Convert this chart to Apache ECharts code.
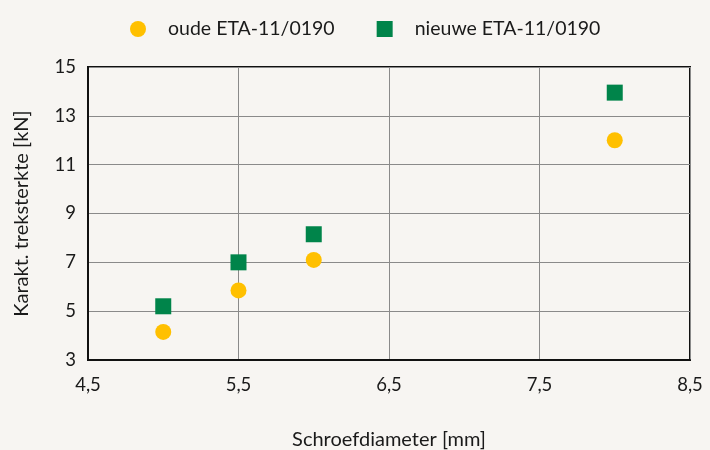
<!DOCTYPE html>
<html>
<head>
<meta charset="utf-8">
<script src="https://cdn.jsdelivr.net/npm/echarts@6/dist/echarts.min.js"></script>
<style>
  html, body { margin: 0; padding: 0; background: #f7f5f2; }
  #chart { width: 710px; height: 450px; }
</style>
</head>
<body>
<div id="chart"></div>
<script>
// diameters (mm)
const diameters = [5, 5.5, 6, 8];
// characteristic tensile strength (kN)
const oudeValues = [4.15, 5.85, 7.1, 12.0];
const nieuweValues = [5.2, 7.0, 8.15, 13.95];
const seriesNames = ['oude ETA-11/0190', 'nieuwe ETA-11/0190'];

const chart = echarts.init(document.getElementById('chart'));
const font = 'Lato, "Open Sans", sans-serif';
const comma = v => String(v).replace('.', ',');

const option = {
  backgroundColor: '#f7f5f2',
  textStyle: { fontFamily: font, color: '#1a1a1a' },
  legend: {
    top: 14,
    left: 125,
    itemWidth: 16,
    itemHeight: 16,
    itemGap: 42,
    textStyle: { fontSize: 19.5, color: '#1a1a1a', padding: [0, 0, 0, 17] },
    data: [
      { name: seriesNames[0], icon: 'circle' },
      { name: seriesNames[1], icon: 'rect' }
    ]
  },
  grid: {
    left: 88, right: 20, top: 67, bottom: 90,
    outerBoundsMode: 'none',
    show: true, borderColor: '#111', borderWidth: 2
  },
  xAxis: {
    type: 'value',
    min: 4.5, max: 8.5, interval: 1,
    name: 'Schroefdiameter [mm]',
    nameLocation: 'middle',
    nameGap: 70,
    nameTextStyle: { fontSize: 20, color: '#1a1a1a' },
    axisLine: { show: true, lineStyle: { color: '#111', width: 2 } },
    axisTick: { show: false },
    axisLabel: { fontSize: 18.5, color: '#1a1a1a', margin: 16, formatter: comma },
    splitLine: { lineStyle: { color: '#8a8a8a', width: 1 } }
  },
  yAxis: {
    type: 'value',
    min: 3, max: 15, interval: 2,
    name: 'Karakt. treksterkte [kN]',
    nameLocation: 'middle',
    nameGap: 56,
    nameTextStyle: { fontSize: 20, color: '#1a1a1a' },
    axisLine: { show: true, lineStyle: { color: '#111', width: 2 } },
    axisTick: { show: false },
    axisLabel: { fontSize: 18.5, color: '#1a1a1a', margin: 12 },
    splitLine: { lineStyle: { color: '#8a8a8a', width: 1 } }
  },
  series: [
    {
      name: seriesNames[0],
      type: 'scatter',
      symbol: 'circle',
      symbolSize: 16,
      itemStyle: { color: '#ffc000', opacity: 1 },
      data: diameters.map((d, i) => [d, oudeValues[i]])
    },
    {
      name: seriesNames[1],
      type: 'scatter',
      symbol: 'rect',
      symbolSize: 16,
      itemStyle: { color: '#00844a', opacity: 1 },
      data: diameters.map((d, i) => [d, nieuweValues[i]])
    }
  ]
};

chart.setOption(option);
</script>
</body>
</html>
